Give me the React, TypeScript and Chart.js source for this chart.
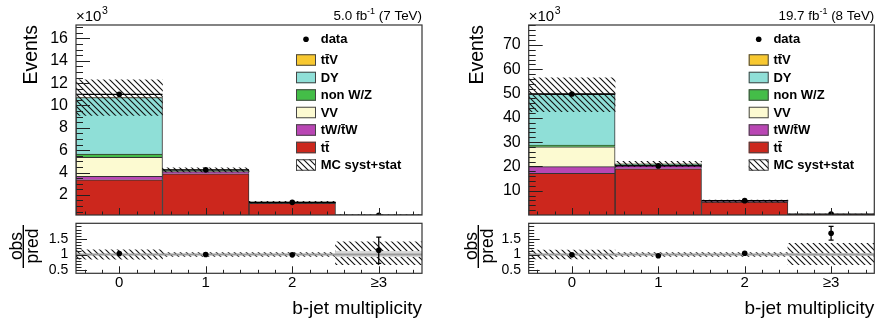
import React, { useEffect, useRef } from "react";
import { Chart, registerables } from "chart.js";
Chart.register(...registerables);

const W = 879;
const H = 322;
const AXW = 76;
const XAH = 30;
const FONT = "'Liberation Sans', Arial, Helvetica, sans-serif";
Chart.defaults.font.family = FONT;

// ---------- data (events in thousands) ----------
const binLabels = ["0", "1", "2", "≥3"];

// 7 TeV, 5.0 fb-1
const tt7 = [3.35, 3.88, 1.24, 0.13];
const tW7 = [0.3, 0.2, 0.07, 0.01];
const vv7 = [1.72, 0.04, 0.02, 0.0];
const nonWZ7 = [0.27, 0.03, 0.01, 0.0];
const dy7 = [5.07, 0.07, 0.01, 0.0];
const ttV7 = [0.01, 0.02, 0.01, 0.01];
const data7 = [11.0, 4.24, 1.33, 0.18];
const dataErr7 = [0.105, 0.065, 0.036, 0.013];
const uncLo7 = [9.1, 4.05, 1.28, 0.1];
const uncHi7 = [12.3, 4.43, 1.42, 0.22];
const ratio7 = [1.03, 1.0, 0.99, 1.14];
const ratioErr7 = [0.01, 0.015, 0.027, 0.42];
const ratioUncLo7 = [0.85, 0.94, 0.94, 0.68];
const ratioUncHi7 = [1.15, 1.06, 1.06, 1.41];
const ratioStatLo7 = [null, null, null, 0.93];
const ratioStatHi7 = [null, null, null, 1.1];
const yTicks7 = [2, 4, 6, 8, 10, 12, 14, 16];

// 8 TeV, 19.7 fb-1
const tt8 = [17.2, 19.0, 5.3, 0.2];
const tW8 = [2.7, 1.4, 0.2, 0.01];
const vv8 = [8.2, 0.15, 0.03, 0.0];
const nonWZ8 = [0.7, 0.1, 0.03, 0.0];
const dy8 = [20.9, 0.3, 0.05, 0.0];
const ttV8 = [0.05, 0.1, 0.08, 0.02];
const data8 = [49.8, 20.2, 5.9, 0.4];
const dataErr8 = [0.22, 0.14, 0.08, 0.03];
const uncLo8 = [42.5, 20.0, 5.3, 0.15];
const uncHi8 = [56.5, 22.1, 6.1, 0.33];
const ratio8 = [0.99, 0.96, 1.04, 1.68];
const ratioErr8 = [0.005, 0.007, 0.014, 0.22];
const ratioUncLo8 = [0.86, 0.94, 0.94, 0.68];
const ratioUncHi8 = [1.14, 1.06, 1.06, 1.36];
const ratioStatLo8 = [null, null, null, 0.97];
const ratioStatHi8 = [null, null, null, 1.03];
const yTicks8 = [10, 20, 30, 40, 50, 60, 70];

const ratioTicks = [0.5, 1, 1.5];

const COLORS = {
  ttV: "#f8c830",
  dy: "#8fdfd7",
  nonWZ: "#44bd48",
  vv: "#fcfad1",
  tW: "#b946b4",
  tt: "#cc271d",
};

type Rect = { left: number; top: number; right: number; bottom: number };
type Panel = {
  layers: { name: string; values: number[]; color: string }[];
  data: number[];
  dataErr: number[];
  uncLo: number[];
  uncHi: number[];
  ratio: number[];
  ratioErr: number[];
  rUncLo: number[];
  rUncHi: number[];
  rStatLo: (number | null)[];
  rStatHi: (number | null)[];
  yTicks: number[];
  yMin: number;
  yMax: number;
  yMinor: number;
  lumi: [string, string, string];
  main: Rect;
  rat: Rect;
  eventsX: number;
  obsX: number;
  fracX: number;
  predX: number;
};

function layersOf(tt: number[], tW: number[], vv: number[], nw: number[], dy: number[], ttV: number[]) {
  return [
    { name: "tt\u0304", values: tt, color: COLORS.tt },
    { name: "tW/t\u0304W", values: tW, color: COLORS.tW },
    { name: "VV", values: vv, color: COLORS.vv },
    { name: "non W/Z", values: nw, color: COLORS.nonWZ },
    { name: "DY", values: dy, color: COLORS.dy },
    { name: "tt\u0304V", values: ttV, color: COLORS.ttV },
  ];
}

const P7: Panel = {
  layers: layersOf(tt7, tW7, vv7, nonWZ7, dy7, ttV7),
  data: data7, dataErr: dataErr7, uncLo: uncLo7, uncHi: uncHi7,
  ratio: ratio7, ratioErr: ratioErr7, rUncLo: ratioUncLo7, rUncHi: ratioUncHi7,
  rStatLo: ratioStatLo7, rStatHi: ratioStatHi7,
  yTicks: yTicks7, yMin: 0.2, yMax: 17.2, yMinor: 0.5,
  lumi: ["5.0 fb", "-1", " (7 TeV)"],
  main: { left: 76, top: 25, right: 422, bottom: 215 },
  rat: { left: 76, top: 223.3, right: 422, bottom: 273.3 },
  eventsX: 36.7, obsX: 21.7, fracX: 23.3, predX: 37.8,
};

const P8: Panel = {
  layers: layersOf(tt8, tW8, vv8, nonWZ8, dy8, ttV8),
  data: data8, dataErr: dataErr8, uncLo: uncLo8, uncHi: uncHi8,
  ratio: ratio8, ratioErr: ratioErr8, rUncLo: ratioUncLo8, rUncHi: ratioUncHi8,
  rStatLo: ratioStatLo8, rStatHi: ratioStatHi8,
  yTicks: yTicks8, yMin: 0, yMax: 78.2, yMinor: 2,
  lumi: ["19.7 fb", "-1", " (8 TeV)"],
  main: { left: 528.7, top: 25, right: 874.3, bottom: 215 },
  rat: { left: 528.7, top: 223.3, right: 874.3, bottom: 273.3 },
  eventsX: 483.3, obsX: 476.7, fracX: 478.3, predX: 492.8,
};

function makeHatch(): CanvasPattern {
  const s = 6;
  const c = document.createElement("canvas");
  c.width = s;
  c.height = s;
  const g = c.getContext("2d")!;
  g.strokeStyle = "#111";
  g.lineWidth = 1.1;
  g.beginPath();
  g.moveTo(-1, -1);
  g.lineTo(s + 1, s + 1);
  g.moveTo(-1, s - 1);
  g.lineTo(1, s + 1);
  g.moveTo(s - 1, -1);
  g.lineTo(s + 1, 1);
  g.stroke();
  return g.createPattern(c, "repeat")!;
}

function drawTicks(
  ctx: CanvasRenderingContext2D, a: any, x: any, y: any,
  yMajor: number[], yStep: number, yMin: number, yMax: number, yMajLen: number, yMinLen: number
) {
  ctx.save();
  ctx.strokeStyle = "#222";
  ctx.lineWidth = 1;
  ctx.beginPath();
  const k0 = Math.ceil(yMin / yStep - 1e-9);
  const k1 = Math.floor(yMax / yStep + 1e-9);
  for (let k = k0; k <= k1; k++) {
    const v = k * yStep;
    const major = yMajor.some((m) => Math.abs(m - v) < 1e-6);
    const py = Math.round(y.getPixelForValue(v)) + 0.5;
    if (py < a.top || py > a.bottom) continue;
    ctx.moveTo(a.left, py);
    ctx.lineTo(a.left + (major ? yMajLen : yMinLen), py);
  }
  for (let k = -2; k <= 17; k++) {
    const v = k * 0.2;
    const major = k % 5 === 0;
    const px = Math.round(x.getPixelForValue(v)) + 0.5;
    ctx.moveTo(px, a.bottom);
    ctx.lineTo(px, a.bottom - (major ? 7 : 3.5));
  }
  ctx.stroke();
  ctx.lineWidth = 1.2;
  ctx.strokeStyle = "#333";
  ctx.strokeRect(a.left, a.top, a.right - a.left, a.bottom - a.top);
  ctx.restore();
}

function drawPoints(ctx: CanvasRenderingContext2D, a: any, x: any, y: any, vals: number[], errs: number[], hbar: boolean) {
  ctx.save();
  ctx.beginPath();
  ctx.rect(a.left, a.top, a.right - a.left, a.bottom - a.top);
  ctx.clip();
  ctx.strokeStyle = "#000";
  ctx.lineWidth = 1.3;
  vals.forEach((v, i) => {
    const cx = x.getPixelForValue(i);
    const cy = y.getPixelForValue(v);
    ctx.beginPath();
    if (hbar) {
      ctx.moveTo(x.getPixelForValue(i - 0.5), cy);
      ctx.lineTo(x.getPixelForValue(i + 0.5), cy);
    }
    const yl = y.getPixelForValue(v - errs[i]);
    const yh = y.getPixelForValue(v + errs[i]);
    if (yl - yh > 6) {
      ctx.moveTo(cx, yl);
      ctx.lineTo(cx, yh);
      if (!hbar) {
        ctx.moveTo(cx - 2.5, yl);
        ctx.lineTo(cx + 2.5, yl);
        ctx.moveTo(cx - 2.5, yh);
        ctx.lineTo(cx + 2.5, yh);
      }
    }
    ctx.stroke();
  });
  ctx.restore();
}

function mainPlugin(p: Panel, hatch: CanvasPattern) {
  return {
    id: "rootMain",
    afterDatasetsDraw(chart: any) {
      const { ctx, chartArea: a, scales } = chart;
      drawPoints(ctx, a, scales.x, scales.y, p.data, p.dataErr, true);
      drawTicks(ctx, a, scales.x, scales.y, p.yTicks, p.yMinor, p.yMin, p.yMax, 14, 7);
    },
    afterDraw(chart: any) {
      const { ctx, chartArea: a } = chart;
      ctx.save();
      ctx.fillStyle = "#000";
      // y title
      ctx.save();
      ctx.translate(p.eventsX, a.top);
      ctx.rotate(-Math.PI / 2);
      ctx.font = `19.5px ${FONT}`;
      ctx.textAlign = "right";
      ctx.textBaseline = "alphabetic";
      ctx.fillText("Events", 0, 0);
      ctx.restore();
      // x10^3
      ctx.textBaseline = "alphabetic";
      ctx.textAlign = "left";
      ctx.font = `15px ${FONT}`;
      ctx.fillText("\u00d710", a.left, 20.5);
      const w10 = ctx.measureText("\u00d710").width;
      ctx.font = `10.5px ${FONT}`;
      ctx.fillText("3", a.left + w10 + 0.5, 14);
      // lumi
      ctx.font = `13.4px ${FONT}`;
      const w3 = ctx.measureText(p.lumi[2]).width;
      const w1 = ctx.measureText(p.lumi[0]).width;
      ctx.font = `9px ${FONT}`;
      const w2 = ctx.measureText(p.lumi[1]).width;
      const xr = a.right;
      ctx.font = `13.4px ${FONT}`;
      ctx.fillText(p.lumi[2], xr - w3, 20);
      ctx.fillText(p.lumi[0], xr - w3 - w2 - w1, 20);
      ctx.font = `9px ${FONT}`;
      ctx.fillText(p.lumi[1], xr - w3 - w2, 14);
      // legend
      const bx = a.left + 220;
      const tx = a.left + 244.7;
      const rows = [
        { label: "data", kind: "dot", color: "#000" },
        ...[...p.layers].reverse().map((l) => ({ label: l.name, kind: "box", color: l.color })),
        { label: "MC syst+stat", kind: "hatch", color: "" },
      ];
      ctx.font = `bold 13px ${FONT}`;
      ctx.textBaseline = "middle";
      rows.forEach((r, i) => {
        const cy = i === 0 ? a.top + 14.3 : a.top + 35 + 17.5 * (i - 1);
        if (r.kind === "dot") {
          ctx.beginPath();
          ctx.arc(bx + 10, cy, 2.8, 0, Math.PI * 2);
          ctx.fillStyle = "#000";
          ctx.fill();
        } else {
          ctx.fillStyle = r.kind === "hatch" ? "#fff" : r.color;
          ctx.fillRect(bx, cy - 5.75, 20, 11.5);
          if (r.kind === "hatch") {
            ctx.fillStyle = hatch;
            ctx.fillRect(bx, cy - 5.75, 20, 11.5);
          }
          ctx.strokeStyle = "#444";
          ctx.lineWidth = 1;
          ctx.strokeRect(bx + 0.5, cy - 5.25, 19, 10.5);
        }
        ctx.fillStyle = "#000";
        ctx.fillText(r.label, tx, cy + 0.5);
      });
      ctx.restore();
    },
  };
}

function ratioPlugin(p: Panel) {
  return {
    id: "rootRatio",
    beforeDatasetDraw(chart: any, args: any) {
      if (args.index !== 0) return;
      const { ctx, chartArea: a, scales } = chart;
      const yy = scales.y.getPixelForValue(1);
      ctx.save();
      ctx.strokeStyle = "#9b9b9b";
      ctx.lineWidth = 2;
      ctx.beginPath();
      ctx.moveTo(a.left, yy);
      ctx.lineTo(a.right, yy);
      ctx.stroke();
      ctx.restore();
    },
    afterDatasetsDraw(chart: any) {
      const { ctx, chartArea: a, scales } = chart;
      drawPoints(ctx, a, scales.x, scales.y, p.ratio, p.ratioErr, false);
      drawTicks(ctx, a, scales.x, scales.y, ratioTicks, 0.1, 0.4, 2.0, 11, 5.5);
    },
    afterDraw(chart: any) {
      const { ctx, chartArea: a } = chart;
      ctx.save();
      ctx.fillStyle = "#000";
      const cy = 246;
      ctx.font = `17.5px ${FONT}`;
      ctx.textAlign = "center";
      ctx.textBaseline = "alphabetic";
      ctx.save();
      ctx.translate(p.obsX, cy);
      ctx.rotate(-Math.PI / 2);
      ctx.fillText("obs", 0, 0);
      ctx.restore();
      ctx.save();
      ctx.translate(p.predX, cy);
      ctx.rotate(-Math.PI / 2);
      ctx.fillText("pred", 0, 0);
      ctx.restore();
      ctx.fillRect(p.fracX - 0.7, 225, 1.4, 43);
      ctx.font = `19px ${FONT}`;
      ctx.textAlign = "right";
      ctx.fillText("b-jet multiplicity", a.right, 314);
      ctx.restore();
    },
  };
}

function yScale(min: number, max: number, ticks: number[], size: number, pad: number, stacked: boolean) {
  return {
    type: "linear" as const,
    min,
    max,
    stacked,
    afterFit: (s: any) => {
      s.width = AXW;
    },
    afterBuildTicks: (s: any) => {
      s.ticks = ticks.map((v) => ({ value: v }));
    },
    ticks: { font: { family: FONT, size }, color: "#000", padding: pad, callback: (v: any) => String(v) },
    grid: { display: false, drawTicks: false },
    border: { display: false },
  };
}

function mainConfig(p: Panel, hatch: CanvasPattern): any {
  const r = p.main;
  return {
    type: "bar",
    data: {
      labels: binLabels,
      datasets: [
        {
          type: "line", label: "data", data: p.data, showLine: false,
          pointRadius: 2.8, pointHoverRadius: 2.8, pointBackgroundColor: "#000", pointBorderWidth: 0, order: 0,
        },
        {
          type: "bar", label: "MC syst+stat", data: p.uncLo.map((lo, i) => [lo, p.uncHi[i]]),
          backgroundColor: hatch, borderWidth: 0, grouped: false, stack: "unc", order: 1,
          barPercentage: 1, categoryPercentage: 1,
        },
        ...p.layers.map((l, k) => ({
          type: "bar", label: l.name, data: l.values, backgroundColor: l.color,
          borderColor: "#333", borderWidth: 1, grouped: false, stack: "mc", order: 2 + k,
          barPercentage: 1, categoryPercentage: 1,
        })),
      ],
    },
    options: {
      responsive: false,
      animation: false,
      devicePixelRatio: 1,
      events: [],
      layout: { padding: { left: r.left - AXW, top: r.top, right: W - r.right, bottom: H - r.bottom } },
      plugins: { legend: { display: false }, tooltip: { enabled: false } },
      scales: {
        x: { type: "category", offset: true, stacked: true, display: false, grid: { display: false } },
        y: yScale(p.yMin, p.yMax, p.yTicks, 16, 8, true),
      },
    },
    plugins: [mainPlugin(p, hatch)],
  };
}

function ratioConfig(p: Panel, hatch: CanvasPattern): any {
  const r = p.rat;
  return {
    type: "bar",
    data: {
      labels: binLabels,
      datasets: [
        {
          type: "line", label: "obs/pred", data: p.ratio, showLine: false,
          pointRadius: 2.8, pointHoverRadius: 2.8, pointBackgroundColor: "#000", pointBorderWidth: 0, order: 0,
        },
        {
          type: "bar", label: "stat", data: p.rStatLo.map((lo, i) => (lo === null ? null : [lo, p.rStatHi[i]])),
          backgroundColor: "#d8d8d8", borderWidth: 0, grouped: false, order: 1,
          barPercentage: 1, categoryPercentage: 1,
        },
        {
          type: "bar", label: "syst", data: p.rUncLo.map((lo, i) => [lo, p.rUncHi[i]]),
          backgroundColor: hatch, borderWidth: 0, grouped: false, order: 2,
          barPercentage: 1, categoryPercentage: 1,
        },
      ],
    },
    options: {
      responsive: false,
      animation: false,
      devicePixelRatio: 1,
      events: [],
      layout: { padding: { left: r.left - AXW, top: r.top, right: W - r.right, bottom: H - r.bottom - XAH } },
      plugins: { legend: { display: false }, tooltip: { enabled: false } },
      scales: {
        x: {
          type: "category", offset: true,
          afterFit: (s: any) => {
            s.height = XAH;
          },
          ticks: { font: { family: FONT, size: 15 }, color: "#000", padding: 1, maxRotation: 0, autoSkip: false },
          grid: { display: false, drawTicks: false },
          border: { display: false },
        },
        y: yScale(0.4, 2.0, ratioTicks, 14, 7.7, false),
      },
    },
    plugins: [ratioPlugin(p)],
  };
}

export default function App() {
  const r1 = useRef<HTMLCanvasElement>(null);
  const r2 = useRef<HTMLCanvasElement>(null);
  const r3 = useRef<HTMLCanvasElement>(null);
  const r4 = useRef<HTMLCanvasElement>(null);
  useEffect(() => {
    const hatch = makeHatch();
    const charts = [
      new Chart(r1.current!, mainConfig(P7, hatch)),
      new Chart(r2.current!, ratioConfig(P7, hatch)),
      new Chart(r3.current!, mainConfig(P8, hatch)),
      new Chart(r4.current!, ratioConfig(P8, hatch)),
    ];
    return () => charts.forEach((c) => c.destroy());
  }, []);
  const cs: React.CSSProperties = { position: "absolute", left: 0, top: 0, width: W, height: H };
  return (
    <div style={{ position: "absolute", left: 0, top: 0, width: W, height: H, background: "#fff", overflow: "hidden" }}>
      <canvas ref={r1} width={W} height={H} style={cs} />
      <canvas ref={r2} width={W} height={H} style={cs} />
      <canvas ref={r3} width={W} height={H} style={cs} />
      <canvas ref={r4} width={W} height={H} style={cs} />
    </div>
  );
}
